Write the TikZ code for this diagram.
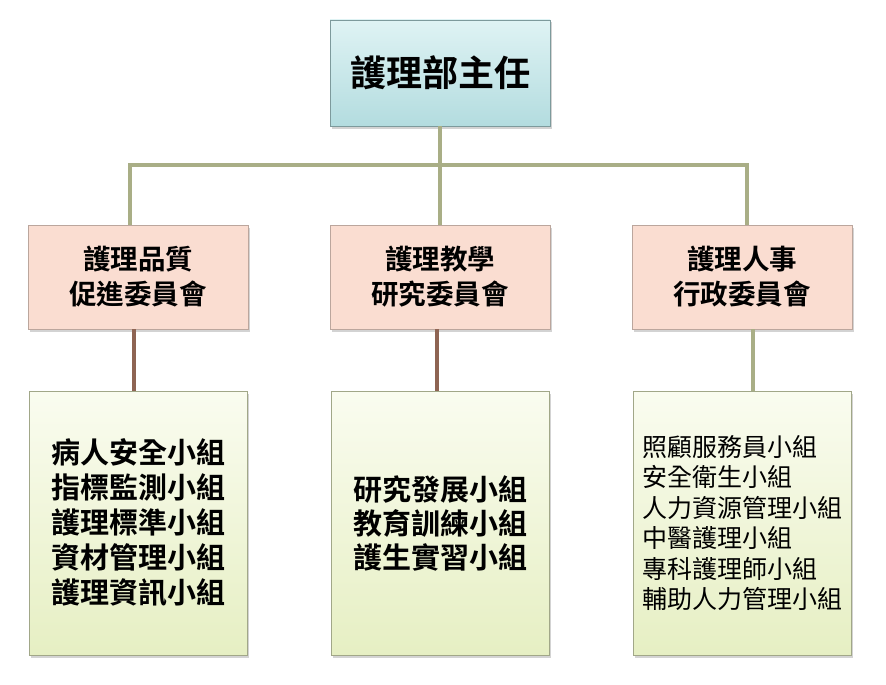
\documentclass[tikz,border=0pt]{standalone}
\usepackage{fontspec}
\setmainfont{Noto Sans CJK TC}
\newfontfamily\cjkbold{Noto Sans CJK TC Bold}
\usetikzlibrary{positioning,shadows}

\definecolor{linkolive}{HTML}{A9AE86}
\definecolor{linkbrown}{HTML}{8E6453}
\definecolor{headtop}{HTML}{DFF3F4}
\definecolor{headbot}{HTML}{B3DCDF}
\definecolor{comfill}{HTML}{FADDD1}
\definecolor{grptop}{HTML}{FAFCF0}
\definecolor{grpbot}{HTML}{E6EFC3}

\begin{document}
\begin{tikzpicture}[x=1pt, y=1pt, node distance=204pt and 302pt, on grid,
	boxshadow/.style={drop shadow={shadow xshift=2pt, shadow yshift=-2.5pt, opacity=0.35}},
	headbox/.style={draw=headbot!70!black, top color=headtop, bottom color=headbot, boxshadow, minimum width=220pt, minimum height=106pt, font=\cjkbold\fontsize{36}{40}\selectfont},
	combox/.style={draw=comfill!75!black, fill=comfill, boxshadow, minimum width=220pt, minimum height=104pt, align=center, font=\cjkbold\fontsize{27.5}{35}\selectfont},
	grpbox/.style={draw=grpbot!70!black, top color=grptop, bottom color=grpbot, boxshadow, minimum width=218pt, minimum height=264pt, align=left},
	link/.style={line width=3.5pt, linkolive},
	sublink/.style={line width=3.5pt, linkbrown}]
	\useasboundingbox (0,0) rectangle (886,-685);

	\node[headbox] (head) at (440,-73) {護理部主任};
	\node[combox] (qual) [below left=204pt and 302pt of head] {護理品質\\促進委員會};
	\node[combox] (edu) [below=of head] {護理教學\\研究委員會};
	\node[combox] (hr) [below right=204pt and 302pt of head] {護理人事\\行政委員會};

	\node[grpbox, font=\cjkbold\fontsize{29}{35}\selectfont] (qualgrp) [below=246pt of qual] {病人安全小組\\指標監測小組\\護理標準小組\\資材管理小組\\護理資訊小組};
	\node[grpbox, font=\cjkbold\fontsize{29}{34}\selectfont] (edugrp) [below=246pt of edu] {研究發展小組\\教育訓練小組\\護生實習小組};
	\node[grpbox, font=\fontsize{25}{30.5}\selectfont] (hrgrp) [below=246pt of hr] {照顧服務員小組\\安全衛生小組\\人力資源管理小組\\中醫護理小組\\專科護理師小組\\輔助人力管理小組};

	\coordinate (bus) at (440,-165);

	\draw[link] (head.south) -- (edu.north);
	\draw[link] ([xshift=-8pt]qual.north) |- (bus) -| ([xshift=5pt]hr.north);

	\draw[sublink] ([xshift=-4pt]qual.south) -- ([xshift=-4pt]qualgrp.north);
	\draw[sublink] ([xshift=-3pt]edu.south) -- ([xshift=-3pt]edugrp.north);
	\draw[link] ([xshift=11pt]hr.south) -- ([xshift=11pt]hrgrp.north);

	\end{tikzpicture}
\end{document}
